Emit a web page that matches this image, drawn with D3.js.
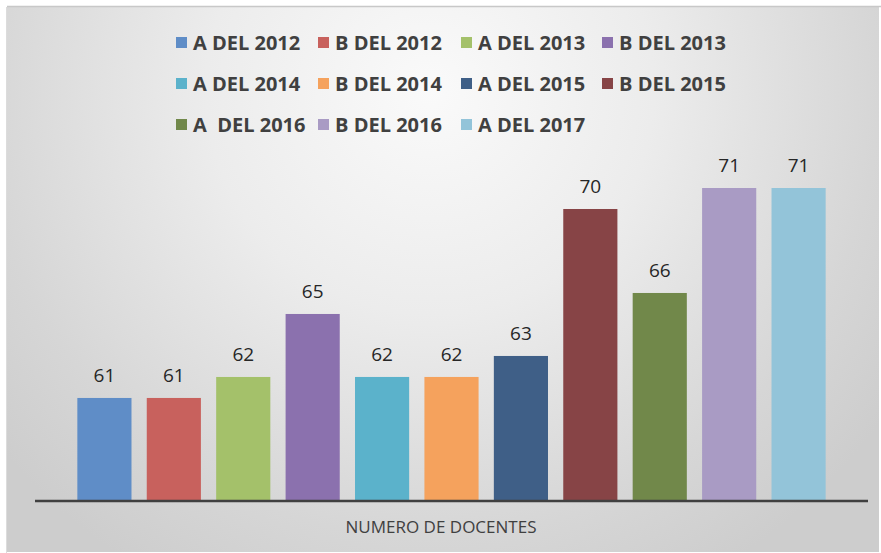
<!DOCTYPE html>
<html>
<head>
<meta charset="utf-8">
<script src="https://cdn.jsdelivr.net/npm/d3@7"></script>
<style>
  html, body { margin: 0; padding: 0; background: #fff; }
  svg { display: block; }
</style>
</head>
<body>
<div id="app"></div>
<script>
const categories = ['A DEL 2012', 'B DEL 2012', 'A DEL 2013', 'B DEL 2013', 'A DEL 2014', 'B DEL 2014',
  'A DEL 2015', 'B DEL 2015', 'A  DEL 2016', 'B DEL 2016', 'A DEL 2017'];
const values = [61, 61, 62, 65, 62, 62, 63, 70, 66, 71, 71];
const colors = ['#5f8dc7', '#c8615d', '#a4c16a', '#8b71ae', '#5bb2cb', '#f5a25d',
  '#3f5f87', '#874446', '#71884a', '#a99bc4', '#93c4d9'];
const axisTitle = 'NUMERO DE DOCENTES';

const width = 881;
const height = 553;

const svg = d3.select('#app').append('svg')
  .attr('width', width)
  .attr('height', height);

const defs = svg.append('defs');
const grad = defs.append('radialGradient')
  .attr('id', 'bg')
  .attr('gradientUnits', 'userSpaceOnUse')
  .attr('cx', 430).attr('cy', 90).attr('r', 560);
grad.append('stop').attr('offset', '0%').attr('stop-color', '#fafafa');
grad.append('stop').attr('offset', '40%').attr('stop-color', '#ececec');
grad.append('stop').attr('offset', '80%').attr('stop-color', '#d6d6d6');
grad.append('stop').attr('offset', '100%').attr('stop-color', '#cdcdcd');

// chart area
svg.append('rect')
  .attr('x', 7).attr('y', 7)
  .attr('width', width - 9).attr('height', height - 8)
  .attr('fill', 'url(#bg)');
svg.append('line')
  .attr('x1', 7).attr('x2', width).attr('y1', 6.5).attr('y2', 6.5)
  .attr('stroke', '#c8c8c8').attr('stroke-width', 1.5);
svg.append('line')
  .attr('x1', 6.5).attr('x2', 6.5).attr('y1', 7).attr('y2', height)
  .attr('stroke', '#dcdcdc').attr('stroke-width', 1);

// legend
const legendCols = [176, 318, 461, 602];
const legendRows = [43, 84, 125];
const legend = svg.append('g')
  .selectAll('g')
  .data(categories)
  .join('g')
  .attr('transform', (d, i) => `translate(${legendCols[i % 4]},${legendRows[Math.floor(i / 4)]})`);
legend.append('rect')
  .attr('x', 0).attr('y', -6)
  .attr('width', 11).attr('height', 11)
  .attr('fill', (d, i) => colors[i]);
legend.append('text')
  .attr('x', 17).attr('y', 0)
  .attr('dy', '0.35em')
  .attr('fill', '#404040')
  .style('font-family', '"Open Sans", sans-serif')
  .style('font-weight', 700)
  .style('font-size', '20px')
  .style('white-space', 'pre')
  .text(d => d);

// bars
const x = d3.scaleBand()
  .domain(categories)
  .range([35, 868])
  .paddingInner(0.22)
  .paddingOuter(0.61);

const y = d3.scaleLinear()
  .domain([56.14, 71])
  .range([500, 188]);

svg.append('g')
  .selectAll('rect')
  .data(values)
  .join('rect')
  .attr('x', (d, i) => x(categories[i]))
  .attr('y', d => y(d))
  .attr('width', x.bandwidth())
  .attr('height', d => y(56.14) - y(d))
  .attr('fill', (d, i) => colors[i]);

svg.append('g')
  .selectAll('text')
  .data(values)
  .join('text')
  .attr('x', (d, i) => x(categories[i]) + x.bandwidth() / 2)
  .attr('y', d => y(d) - 16)
  .attr('text-anchor', 'middle')
  .attr('fill', '#262626')
  .style('font-family', '"Open Sans", sans-serif')
  .style('font-size', '19px')
  .text(d => d);

// category axis
svg.append('line')
  .attr('x1', 35).attr('x2', 868)
  .attr('y1', y(56.14) + 1).attr('y2', y(56.14) + 1)
  .attr('stroke', '#404040').attr('stroke-width', 2.5);

svg.append('text')
  .attr('x', 441).attr('y', 527)
  .attr('dy', '0.35em')
  .attr('text-anchor', 'middle')
  .attr('fill', '#404040')
  .style('font-family', '"Open Sans", sans-serif')
  .style('font-size', '17px')
  .text(axisTitle);
</script>
</body>
</html>
